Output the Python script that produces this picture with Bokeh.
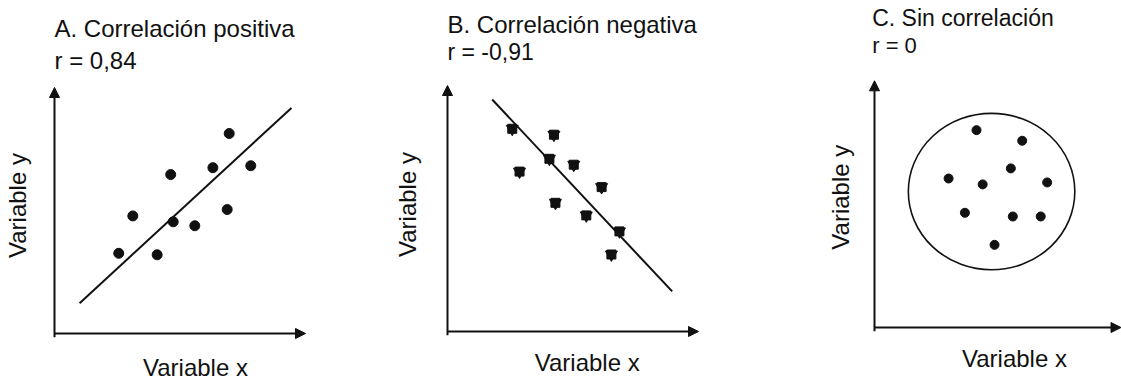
import math
from bokeh.plotting import figure
from bokeh.layouts import row
from bokeh.models import Range1d, Label, Arrow, NormalHead
from bokeh.embed import file_html
from bokeh.resources import INLINE

FONT = "Liberation Sans"
INK = "#111111"

# ---------------- data ----------------
# Panel A: positive correlation
a_title = "A. Correlación positiva"
a_r = "r = 0,84"
a_x = [2.56, 3.12, 4.09, 4.63, 4.73, 5.59, 6.31, 6.96, 6.88, 7.82]
a_y = [3.26, 4.78, 3.20, 6.46, 4.54, 4.38, 6.74, 8.13, 5.04, 6.82]
a_line_x = [1.00, 9.44]
a_line_y = [1.23, 9.17]

# Panel B: negative correlation
b_title = "B. Correlación negativa"
b_r = "r = -0,91"
b_x = [2.58, 2.87, 4.24, 4.06, 5.03, 4.30, 5.53, 6.14, 6.85, 6.53]
b_y = [8.24, 6.50, 8.00, 7.02, 6.78, 5.23, 4.72, 5.87, 4.07, 3.13]
b_line_x = [1.78, 8.95]
b_line_y = [9.43, 1.63]

# Panel C: no correlation
c_title = "C. Sin correlación"
c_r = "r = 0"
c_x = [4.13, 5.98, 3.00, 4.38, 5.52, 6.99, 3.66, 5.60, 6.73, 4.86]
c_y = [8.00, 7.57, 6.04, 5.80, 6.45, 5.88, 4.65, 4.50, 4.50, 3.35]
c_ring_x = [4.74]
c_ring_y = [5.51]
c_ring_w = [6.74]
c_ring_h = [6.34]

x_label = "Variable x"
y_label = "Variable y"


def make_fig(w, h, ox, oy, sx, sy):
    """ox, oy: origin position in px from the figure's left / bottom;
    sx, sy: px per data unit."""
    p = figure(width=w, height=h,
               x_range=Range1d(-ox / sx, (w - ox) / sx),
               y_range=Range1d(-oy / sy, (h - oy) / sy),
               x_axis_location=None, y_axis_location=None,
               toolbar_location=None, output_backend="svg",
               min_border_left=0, min_border_right=0,
               min_border_top=0, min_border_bottom=0)
    p.grid.visible = False
    p.outline_line_color = None
    p.background_fill_color = "white"
    p.border_fill_color = "white"
    return p


def add_axes(p, xmax, ymax):
    p.add_layout(Arrow(x_start=0, y_start=0, x_end=xmax, y_end=0,
                       line_width=2, line_color=INK,
                       end=NormalHead(size=10, fill_color=INK, line_color=INK)))
    p.add_layout(Arrow(x_start=0, y_start=-0.15, x_end=0, y_end=ymax,
                       line_width=2, line_color=INK,
                       end=NormalHead(size=10, fill_color=INK, line_color=INK)))


def add_text(p, text, sx, sy, size, angle=0.0, align="left"):
    p.add_layout(Label(x=sx, y=sy, x_units="screen", y_units="screen",
                       text=text, angle=angle, text_align=align,
                       text_baseline="alphabetic", text_font=FONT,
                       text_font_size=size, text_color=INK))


H = 380

# ---------------- panel A ----------------
pa = make_fig(392, H, 54, 47, 25.1, 24.6)
add_axes(pa, 10, 10)
pa.line(a_line_x, a_line_y, line_width=2, line_color=INK)
pa.scatter(a_x, a_y, size=10, marker="circle", fill_color=INK, line_color=INK)
add_text(pa, a_title, 54, 351.7, "24px")
add_text(pa, a_r, 54, 320, "24px")
add_text(pa, x_label, 195, 13, "24px", align="center")
add_text(pa, y_label, 17, 175, "24px", angle=math.pi / 2, align="center")

# ---------------- panel B ----------------
pb = make_fig(408, H, 55, 49, 25.1, 24.6)
add_axes(pb, 10, 10)
pb.line(b_line_x, b_line_y, line_width=2, line_color=INK)
pb.scatter(b_x, b_y, size=9, marker="square", fill_color=INK, line_color=INK)
pb.scatter(b_x, b_y, size=12, marker="inverted_triangle", fill_color=INK, line_color=INK)
add_text(pb, b_title, 55, 355.7, "24px")
add_text(pb, b_r, 55, 328.7, "23px")
add_text(pb, x_label, 194.7, 18.3, "24px", align="center")
add_text(pb, y_label, 15, 176, "24px", angle=math.pi / 2, align="center")

# ---------------- panel C ----------------
pc = make_fig(321, H, 74, 53, 24.7, 24.67)
add_axes(pc, 9.98, 10)
pc.ellipse(c_ring_x, c_ring_y, width=c_ring_w, height=c_ring_h,
           fill_color=None, line_color=INK, line_width=1.6)
pc.scatter(c_x, c_y, size=9, marker="circle", fill_color=INK, line_color=INK)
add_text(pc, c_title, 71.7, 362.4, "23px")
add_text(pc, c_r, 71.7, 334.9, "22px")
add_text(pc, x_label, 214, 21.7, "24px", align="center")
add_text(pc, y_label, 40, 183.3, "24px", angle=math.pi / 2, align="center")

layout = row(pa, pb, pc)
open("out.html", "w").write(file_html(layout, INLINE))
